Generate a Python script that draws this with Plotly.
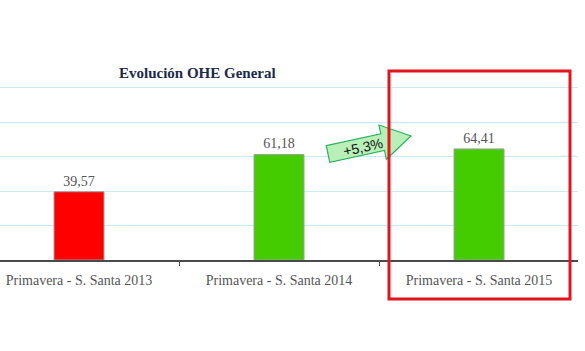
import math
import plotly.graph_objects as go

categories = ["Primavera - S. Santa 2013", "Primavera - S. Santa 2014", "Primavera - S. Santa 2015"]
values = [39.57, 61.18, 64.41]
value_labels = ["39,57", "61,18", "64,41"]
bar_colors = ["#ff0000", "#44cc00", "#44cc00"]
grid_vals = [20, 40, 60, 80, 100]
title_text = "Evolución OHE General"
growth_text = "+5,3%"

W, H = 585, 351
ML, MR, MT, MB = 0, 7, 62, 91
PW, PH = W - ML - MR, H - MT - MB

def px(x, y):
    return ((x - ML) / PW, (H - MB - y) / PH)

xpos = list(range(len(categories)))

fig = go.Figure()
fig.add_trace(go.Bar(
    x=xpos, y=values, width=0.25,
    marker=dict(color=bar_colors, line=dict(color="#a0a0a0", width=1)),
    text=value_labels, textposition="outside", cliponaxis=False,
    textfont=dict(family="Liberation Serif, DejaVu Serif, serif", size=14, color="#555555"),
))

# block arrow (decoration) in pixel space
tail = (328.0, 154.0)
tip = (411.0, 136.0)
dx, dy = tip[0] - tail[0], tip[1] - tail[1]
L = math.hypot(dx, dy)
ux, uy = dx / L, dy / L
nx, ny = -uy, ux
sw, hw, hl = 8.5, 17.5, 29.0
local = [(0, -sw), (L - hl, -sw), (L - hl, -hw), (L, 0), (L - hl, hw), (L - hl, sw), (0, sw)]
pts = []
for a, b in local:
    X = tail[0] + ux * a + nx * b
    Y = tail[1] + uy * a + ny * b
    pts.append(px(X, Y))
path = "M " + " L ".join(f"{p[0]:.4f},{p[1]:.4f}" for p in pts) + " Z"
fig.add_shape(type="path", path=path, xref="paper", yref="paper",
              fillcolor="#b8f0b8", line=dict(color="#2fb060", width=1.2))
angle = math.degrees(math.atan2(dy, dx))
tx, ty = px(363, 147)
fig.add_annotation(x=tx, y=ty, xref="paper", yref="paper", xanchor="center", yanchor="middle",
                   text=growth_text, showarrow=False, textangle=angle,
                   font=dict(family="Liberation Sans, Arial, sans-serif", size=14, color="#111111"))

# highlight rectangle
x0, y0 = px(389, 299)
x1, y1 = px(570, 71)
fig.add_shape(type="rect", xref="paper", yref="paper", x0=x0, y0=y0, x1=x1, y1=y1,
              line=dict(color="#e3141c", width=3), fillcolor="rgba(0,0,0,0)")

# title
tx, ty = px(198, 73)
fig.add_annotation(x=tx, y=ty, xref="paper", yref="paper", xanchor="center", yanchor="middle",
                   text="<b>" + title_text + "</b>", showarrow=False,
                   font=dict(family="Liberation Serif, DejaVu Serif, serif", size=15, color="#1c2a4a"))

fig.update_layout(
    width=W, height=H, margin=dict(l=ML, r=MR, t=MT, b=MB),
    paper_bgcolor="white", plot_bgcolor="white", showlegend=False,
    xaxis=dict(range=[-0.395, 2.495], tickvals=xpos, ticktext=categories,
               ticks="outside", ticklen=6, tickcolor="rgba(0,0,0,0)",
               tickfont=dict(family="Liberation Serif, DejaVu Serif, serif", size=14, color="#555555"),
               showline=True, linecolor="#4a4a4a", linewidth=1.5, showgrid=False, zeroline=False,
               minor=dict(tick0=0.5, dtick=1, ticks="outside", ticklen=4, tickcolor="#4a4a4a", tickwidth=1.2, showgrid=False)),
    yaxis=dict(range=[0, 114.8], tickvals=grid_vals, showticklabels=False, showgrid=True,
               gridcolor="#c9ebf8", gridwidth=1.2, zeroline=False, showline=False),
)

fig.write_html("out.html")
